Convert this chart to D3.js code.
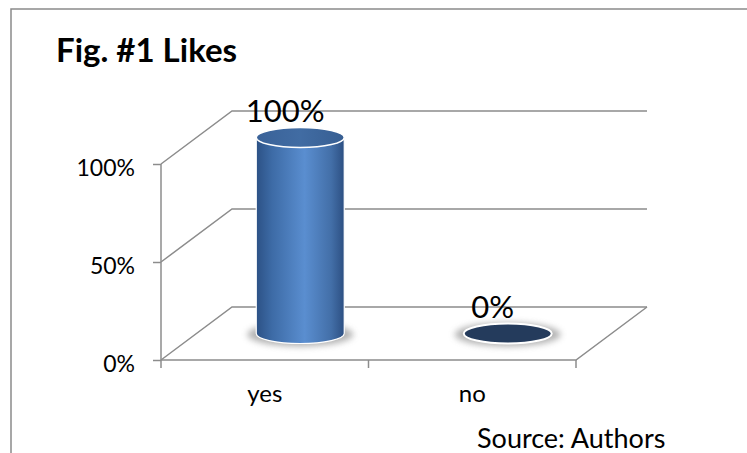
<!DOCTYPE html>
<html>
<head>
<meta charset="utf-8">
<script src="https://cdn.jsdelivr.net/npm/d3@7"></script>
<style>
  html, body { margin: 0; padding: 0; background: #fff; }
  svg { display: block; font-family: Lato, "Open Sans", sans-serif; }
</style>
</head>
<body>
<div id="chart"></div>
<script>
const categories = ['yes', 'no'];
const values = [100, 0];
const yTicks = [0, 50, 100];
const valueLabels = ['100%', '0%'];
const title = 'Fig. #1 Likes';
const source = 'Source: Authors';

const W = 747, H = 453;
const depth = { dx: 71, dy: -53 };   // 3D offset of back wall
const gridColor = '#8c8c8c';

const svg = d3.select('#chart').append('svg')
  .attr('width', W)
  .attr('height', H);

const defs = svg.append('defs');

// cylinder body shading
const grad = defs.append('linearGradient').attr('id', 'cyl').attr('x1', '0%').attr('x2', '100%');
[[0, '#2c5185'], [0.18, '#3d6ba6'], [0.55, '#5a8ed0'], [0.85, '#436fa8'], [1, '#2c4f82']]
  .forEach(s => grad.append('stop').attr('offset', s[0]).attr('stop-color', s[1]));

const topGrad = defs.append('linearGradient').attr('id', 'cylTop').attr('x1', '0%').attr('x2', '100%');
[[0, '#3a6298'], [0.5, '#416ca3'], [1, '#375e92']]
  .forEach(s => topGrad.append('stop').attr('offset', s[0]).attr('stop-color', s[1]));

defs.append('filter').attr('id', 'blur').attr('x', '-50%').attr('y', '-50%').attr('width', '200%').attr('height', '200%')
  .append('feGaussianBlur').attr('stdDeviation', 3);

// outer frame (top and left edges only)
svg.append('path')
  .attr('d', `M${W},9 L11,9 L11,${H}`)
  .attr('fill', 'none')
  .attr('stroke', '#8a8a8a')
  .attr('stroke-width', 1.5);

// scales
const x = d3.scaleBand().domain(categories).range([161, 576]);
const y = d3.scaleLinear().domain([0, 100]).range([360, 164]);
const x0 = x.range()[0], x1 = x.range()[1];

const grid = svg.append('g').attr('stroke', gridColor).attr('stroke-width', 1.5).attr('fill', 'none');

// back wall gridlines + diagonal connectors on the side wall
yTicks.forEach(t => {
  grid.append('path')
    .attr('d', `M${x0},${y(t)} L${x0 + depth.dx},${y(t) + depth.dy} L${x1 + depth.dx},${y(t) + depth.dy}`);
});

// floor: front edge and right edge
grid.append('path')
  .attr('d', `M${x0},${y(0)} L${x1},${y(0)} L${x1 + depth.dx},${y(0) + depth.dy}`);

// left axis
const yAxis = svg.append('g')
  .attr('transform', `translate(${x0},0)`)
  .call(d3.axisLeft(y).tickValues(yTicks).tickSize(8).tickPadding(18).tickFormat(d => d + '%'));
yAxis.select('.domain').attr('stroke', gridColor).attr('stroke-width', 1.5).attr('d', `M0,${y(100)}V${y(0)}`);
yAxis.selectAll('.tick line').attr('stroke', gridColor).attr('stroke-width', 1.5);
yAxis.selectAll('.tick text')
  .attr('fill', '#000')
  .style('font-size', '23px')
  .style('font-family', 'Lato, sans-serif')
  .attr('dy', '0.48em');

// bottom axis: ticks on band edges, labels on band centres
const edges = categories.map(c => x(c)).concat([x1]);
svg.append('g').selectAll('line').data(edges).join('line')
  .attr('x1', d => d).attr('x2', d => d)
  .attr('y1', y(0)).attr('y2', y(0) + 8)
  .attr('stroke', gridColor).attr('stroke-width', 1.5);

const xAxis = svg.append('g')
  .attr('transform', `translate(0,${y(0)})`)
  .call(d3.axisBottom(x).tickSize(0).tickPadding(25));
xAxis.select('.domain').remove();
xAxis.selectAll('.tick text')
  .attr('fill', '#000')
  .style('font-size', '24px')
  .style('font-family', 'Lato, sans-serif');

// bars (cylinders at mid depth)
const rx = 44, ry = 10;
const bars = svg.append('g').selectAll('g').data(categories.map((c, i) => ({ c, v: values[i], label: valueLabels[i] }))).join('g');

bars.each(function (d) {
  const g = d3.select(this);
  const cx = x(d.c) + x.bandwidth() / 2 + depth.dx / 2;
  const yb = y(0) + depth.dy / 2;
  const yt = y(d.v) + depth.dy / 2;

  // soft shadow on the floor
  g.append('ellipse')
    .attr('cx', cx).attr('cy', yb + 1)
    .attr('rx', rx + 9).attr('ry', ry + 2)
    .attr('fill', '#9a9a9a')
    .attr('opacity', 0.75)
    .attr('filter', 'url(#blur)');

  if (d.v > 0) {
    g.append('path')
      .attr('d', `M${cx - rx},${yt} L${cx - rx},${yb} A${rx},${ry} 0 0 0 ${cx + rx},${yb} L${cx + rx},${yt} Z`)
      .attr('fill', 'url(#cyl)')
      .attr('stroke', '#fff')
      .attr('stroke-width', 1.2);
    g.append('ellipse')
      .attr('cx', cx).attr('cy', yt)
      .attr('rx', rx).attr('ry', ry)
      .attr('fill', 'url(#cylTop)')
      .attr('stroke', '#fff')
      .attr('stroke-width', 1.5);
  } else {
    g.append('ellipse')
      .attr('cx', cx).attr('cy', yt)
      .attr('rx', rx).attr('ry', ry)
      .attr('fill', '#243b5c')
      .attr('stroke', '#fff')
      .attr('stroke-width', 2);
  }

  g.append('text')
    .attr('x', cx - 15)
    .attr('y', yt - ry - 6)
    .attr('text-anchor', 'middle')
    .style('font-size', '31px')
    .attr('fill', '#000')
    .text(d.label);
});

// title and source
svg.append('text')
  .attr('x', 56).attr('y', 62)
  .style('font-size', '33px')
  .style('font-weight', 'bold')
  .attr('fill', '#000')
  .text(title);

svg.append('text')
  .attr('x', 477).attr('y', 448)
  .style('font-size', '27px')
  .attr('fill', '#000')
  .text(source);
</script>
</body>
</html>
